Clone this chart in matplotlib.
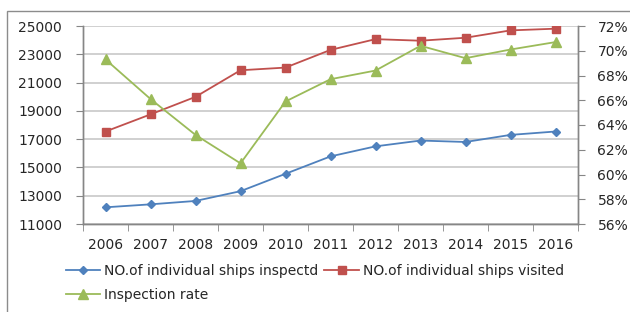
import numpy as np
import matplotlib
matplotlib.use("Agg")
import matplotlib.pyplot as plt
from matplotlib.patches import Rectangle

years = ["2006", "2007", "2008", "2009", "2010", "2011",
         "2012", "2013", "2014", "2015", "2016"]
inspected = [12180, 12390, 12630, 13320, 14550, 15780,
             16490, 16900, 16800, 17300, 17540]
visited = [17540, 18750, 19990, 21870, 22060, 23310,
           24070, 23960, 24170, 24690, 24810]
rate = [69.3, 66.1, 63.2, 60.9, 65.9, 67.7,
        68.4, 70.4, 69.4, 70.1, 70.7]

c_blue = "#4F81BD"
c_red = "#C0504D"
c_green = "#9BBB59"
c_axis = "#868686"
c_text = "#262626"

plt.rcParams['font.family'] = ['DejaVu Sans']

fig = plt.figure(figsize=(6.3, 3.12), dpi=100)
ax = fig.add_axes([83/630, 1-224/312, (578-83)/630, (224-26)/312])
ax2 = ax.twinx()

x = np.arange(len(years))

l1, = ax.plot(x, inspected, color=c_blue, lw=1.3, marker='D', ms=4.5,
              label="NO.of individual ships inspectd")
l2, = ax.plot(x, visited, color=c_red, lw=1.3, marker='s', ms=6,
              label="NO.of individual ships visited")
l3, = ax2.plot(x, rate, color=c_green, lw=1.3, marker='^', ms=6.5,
               label="Inspection rate")

ax.set_xlim(-0.5, len(years) - 0.5)
ax.set_ylim(11000, 25000)
ax.set_yticks(np.arange(11000, 25001, 2000))
ax2.set_ylim(56, 72)
ax2.set_yticks(np.arange(56, 73, 2))
ax2.set_yticklabels([f"{v}%" for v in range(56, 73, 2)])

ax.set_xticks(x)
ax.set_xticklabels(years)
ax.set_xticks(np.arange(-0.5, len(years)), minor=True)
ax.tick_params(axis='x', which='major', length=0, pad=10, labelsize=10, colors=c_text)
ax.tick_params(axis='x', which='minor', length=5, color=c_axis, direction='out')
ax.tick_params(axis='y', length=5, color=c_axis, pad=10, labelsize=10, labelcolor=c_text)
ax2.tick_params(axis='y', length=5, color=c_axis, pad=9, labelsize=10, labelcolor=c_text)

ax.grid(axis='y', color='#C8C8C8', lw=1.2)
ax.set_axisbelow(True)
for a in (ax, ax2):
    a.spines['top'].set_visible(False)
    for s in ('left', 'right', 'bottom'):
        a.spines[s].set_color(c_axis)
        a.spines[s].set_linewidth(1.0)

fig.legend([l1, l3, l2], [l1.get_label(), l3.get_label(), l2.get_label()],
           ncol=2, loc='upper left', bbox_to_anchor=(60/630, 1-258/312),
           frameon=False, fontsize=10, handlelength=2.5, handletextpad=0.3,
           columnspacing=0.4, labelspacing=0.75, borderaxespad=0,
           labelcolor=c_text)

fig.add_artist(Rectangle((7/630, -0.1), 1.2, 1.1 - 11/312,
                         transform=fig.transFigure, fill=False,
                         edgecolor='#8C8C8C', lw=1.0))

fig.savefig("out.png", dpi=100, facecolor='white')
